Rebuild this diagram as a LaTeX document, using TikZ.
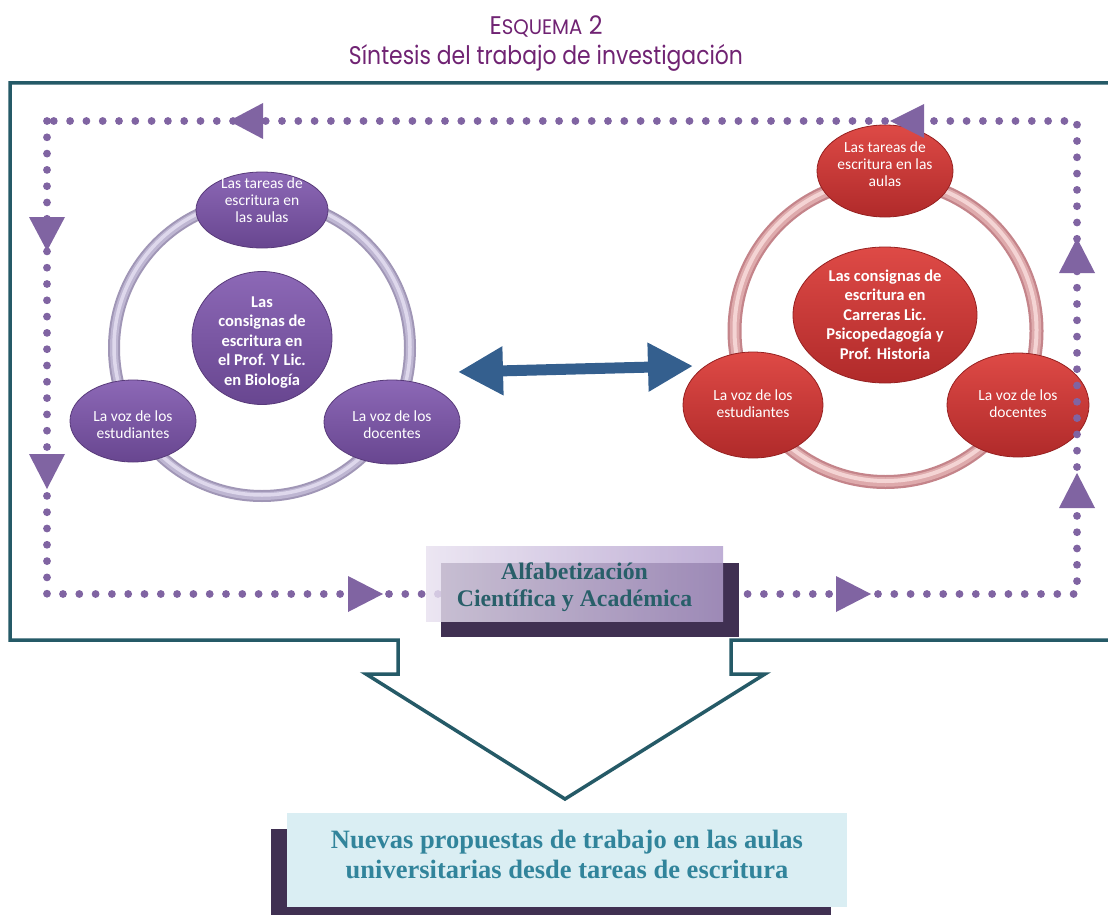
\documentclass[tikz,border=0pt]{standalone}
\usepackage{fontspec}
\setmainfont{Carlito}
\newfontfamily\ttlfont{Poppins}
\newfontfamily\serfont{Liberation Serif}
\usetikzlibrary{arrows.meta,shapes.geometric}
\definecolor{ttl}{RGB}{112,35,115}
\definecolor{frm}{RGB}{37,90,103}
\definecolor{dotc}{RGB}{128,100,162}
\definecolor{purtop}{RGB}{140,104,182}
\definecolor{purbot}{RGB}{104,70,144}
\definecolor{purrim}{RGB}{88,58,122}
\definecolor{redtop}{RGB}{222,74,70}
\definecolor{redbot}{RGB}{176,42,42}
\definecolor{redrim}{RGB}{150,32,32}
\definecolor{ringLdk}{RGB}{160,150,182}
\definecolor{ringLmd}{RGB}{190,182,210}
\definecolor{ringLlt}{RGB}{222,216,236}
\definecolor{ringRdk}{RGB}{196,132,138}
\definecolor{ringRmd}{RGB}{222,170,172}
\definecolor{ringRlt}{RGB}{244,212,212}
\definecolor{arrowblue}{RGB}{52,95,142}
\definecolor{shadowc}{RGB}{64,48,82}
\definecolor{boxblue}{RGB}{218,238,243}
\definecolor{alfA}{RGB}{232,225,240}
\definecolor{alfB}{RGB}{178,158,205}
\definecolor{txtteal}{RGB}{40,95,105}
\definecolor{txtblue}{RGB}{49,132,155}
\newcommand\boxtext[2]{\makebox[0pt]{\raisebox{#1}[0pt][0pt]{\begin{tabular}[t]{@{}c@{}}#2\end{tabular}}}}
\begin{document}
\begin{tikzpicture}[x=1pt,y=-1pt,
  ell/.style={ellipse, inner sep=0pt, line width=0.8pt, text=white, font=\fontsize{15.5}{17}\selectfont},
  pell/.style={ell, draw=purrim, top color=purtop, bottom color=purbot},
  rell/.style={ell, draw=redrim, top color=redtop, bottom color=redbot},
  ctr/.style={font=\bfseries\fontsize{16.5}{19.5}\selectfont},
  dots/.style={dotc, line width=7.8pt, line cap=round, dash pattern=on 0pt off 16.3pt},
  tri/.style={fill=dotc},
  framepath/.style={draw=frm, line width=3.5pt, line join=miter},
  ttltext/.style={text=ttl, inner sep=0pt, anchor=base},
  shadowbox/.style={fill=shadowc},
]
\useasboundingbox (0,0) rectangle (1108,915);
\fill[white] (0,0) rectangle (1108,915);

% title
\node[ttltext] (t1) at (546,35) {\resizebox{113pt}{\height}{\ttlfont\fontsize{25.5}{28}\selectfont E{\fontsize{21}{24}\selectfont SQUEMA} 2}};
\node[ttltext] (t2) at (546,65) {\resizebox{394pt}{\height}{\ttlfont\fontsize{25.5}{28}\selectfont Síntesis del trabajo de investigación}};

% frame with arrow
\draw[framepath] (1112,83) -- (10,83) -- (10,640) -- (398,640) -- (398,674) -- (366,674) -- (565,799) -- (765,674) -- (731,674) -- (731,640) -- (1112,640);

% rings
\draw[line width=12pt, ringLdk] (262,348) circle[radius=148];
\draw[line width=8pt, ringLmd] (262,348) circle[radius=148];
\draw[line width=3.5pt, ringLlt] (262,347) circle[radius=148];
\draw[line width=14pt, ringRdk] (885.5,331) circle[radius=151];
\draw[line width=9.5pt, ringRmd] (885.5,331) circle[radius=151];
\draw[line width=4pt, ringRlt] (885.5,330) circle[radius=151];

% left cycle
\node[pell, minimum width=132pt, minimum height=76pt] (L1) at (262,210) {\boxtext{22pt}{Las tareas de\\escritura en\\las aulas}};
\node[pell, ctr, minimum width=140pt, minimum height=133pt] (L0) at (262,338) {\boxtext{31pt}{Las\\consignas de\\escritura en\\el Prof. Y Lic.\\en Biología}};
\node[pell, minimum width=126pt, minimum height=82pt] (L2) at (133,421) {\boxtext{-0.5pt}{La voz de los\\estudiantes}};
\node[pell, minimum width=136pt, minimum height=84pt] (L3) at (392,422) {\boxtext{0.5pt}{La voz de los\\docentes}};

% right cycle
\node[rell, minimum width=136pt, minimum height=92pt] (R1) at (885,171) {\boxtext{18.5pt}{Las tareas de\\escritura en las\\aulas}};
\node[rell, ctr, minimum width=184pt, minimum height=136pt] (R0) at (885,315) {\boxtext{34pt}{Las consignas de\\escritura en\\Carreras Lic.\\Psicopedagogía y\\Prof. Historia}};
\node[rell, minimum width=140pt, minimum height=106pt] (R2) at (753,405) {\boxtext{4.5pt}{La voz de los\\estudiantes}};
\node[rell, minimum width=142pt, minimum height=104pt] (R3) at (1018,405) {\boxtext{4.5pt}{La voz de los\\docentes}};

% double arrow
\coordinate (aL) at (458,372);
\coordinate (aR) at (693,366);
\draw[arrowblue, line width=11pt, {Triangle[length=45pt,width=46pt]}-{Triangle[length=45pt,width=46pt]}] (aL) -- (aR);

% dotted loop
\draw[dots] (47,121) rectangle (1077,594);
\fill[tri] (229,121) -- (263,103) -- (263,139) -- cycle;
\fill[tri] (890,121) -- (924,104) -- (924,138) -- cycle;
\fill[tri] (47,251) -- (29,217) -- (65,217) -- cycle;
\fill[tri] (47,489) -- (29,454) -- (65,454) -- cycle;
\fill[tri] (1077,238) -- (1059,273) -- (1095,273) -- cycle;
\fill[tri] (1077,473) -- (1059,508) -- (1095,508) -- cycle;
\fill[tri] (383,594) -- (348,576) -- (348,612) -- cycle;
\fill[tri] (871,594) -- (836,576) -- (836,612) -- cycle;

% Alfabetizacion box
\fill[shadowbox] (441,563) rectangle (739,637);
\node[left color=alfA, right color=alfB, fill opacity=0.82, text opacity=1, inner sep=0pt,
      minimum width=297pt, minimum height=75pt, text=txtteal,
      font=\serfont\bfseries\fontsize{23.8}{27}\selectfont] (alf) at (574.5,583.5)
      {\boxtext{4.5pt}{Alfabetización\\Científica y Académica}};

% bottom box
\fill[shadowbox] (271,829) rectangle (831,931);
\node[fill=boxblue, inner sep=0pt, minimum width=560pt, minimum height=94pt, text=txtblue,
      font=\serfont\bfseries\fontsize{26.5}{30}\selectfont] (np) at (567,860)
      {\boxtext{12pt}{Nuevas propuestas de trabajo en las aulas\\universitarias desde tareas de escritura}};
\end{tikzpicture}
\end{document}
